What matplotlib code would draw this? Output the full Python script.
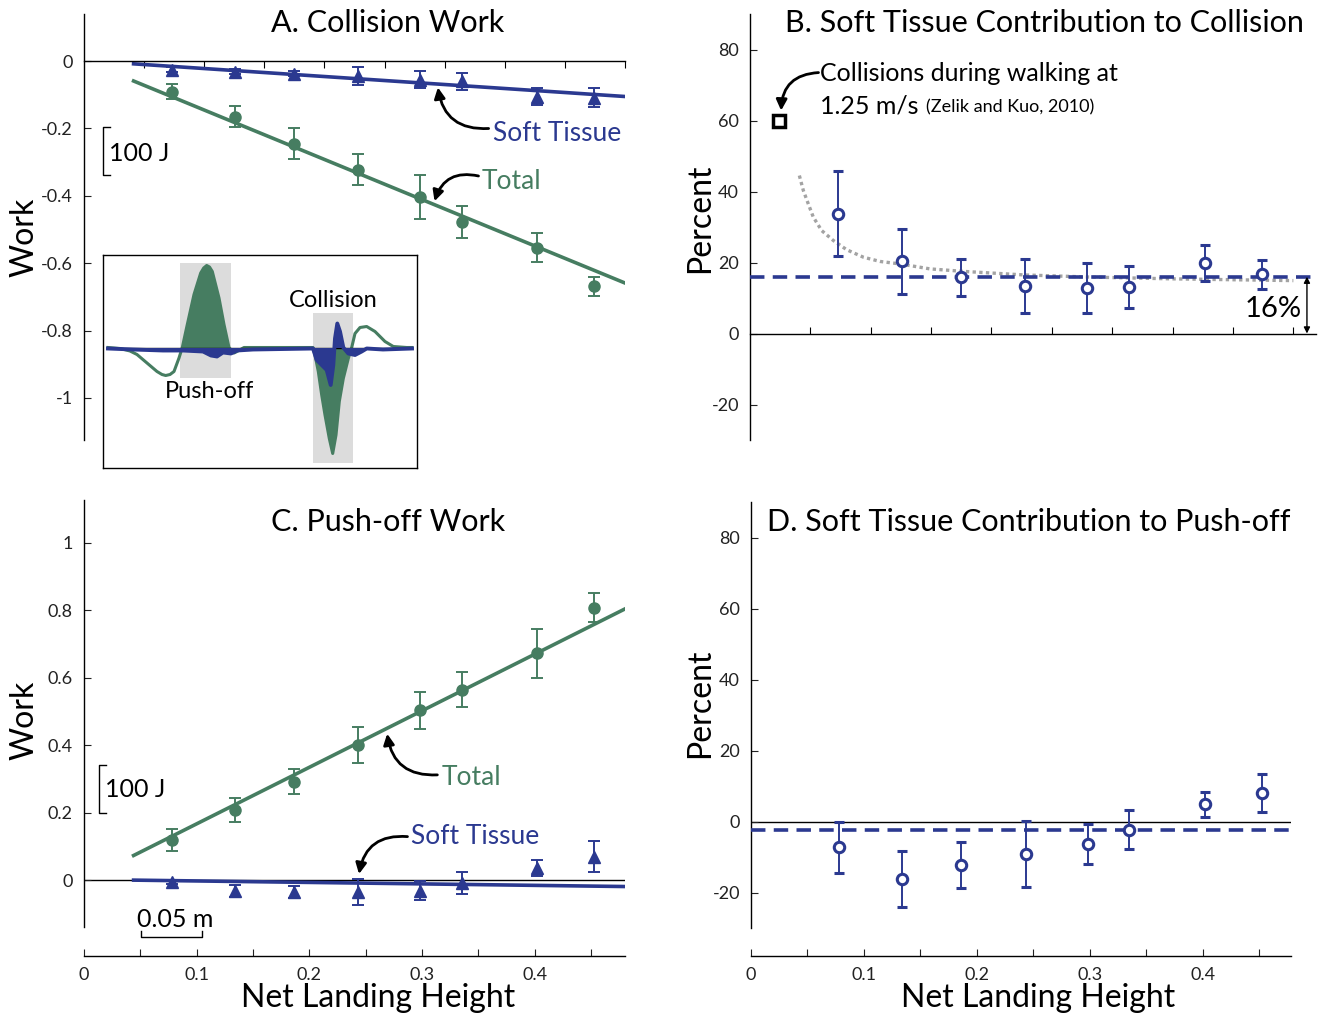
import numpy as np
import matplotlib
matplotlib.use('Agg')
import matplotlib.pyplot as plt
from matplotlib.patches import Rectangle

plt.rcParams['font.family'] = ['Lato', 'DejaVu Sans']

# ---------------- data ----------------
heights = [0.078, 0.134, 0.186, 0.243, 0.298, 0.335, 0.402, 0.4525]

coll_total = [-0.091, -0.165, -0.245, -0.322, -0.403, -0.478, -0.554, -0.668]
coll_total_err = [0.022, 0.032, 0.046, 0.045, 0.066, 0.047, 0.043, 0.028]
coll_soft = [-0.025, -0.031, -0.037, -0.044, -0.055, -0.060, -0.105, -0.108]
coll_soft_err = [0.008, 0.008, 0.008, 0.027, 0.026, 0.026, 0.025, 0.027]
coll_total_fit = (-1.376, 0.0016)   # slope, intercept
coll_soft_fit = (-0.2225, 0.0018)

push_total = [0.119, 0.208, 0.291, 0.400, 0.503, 0.564, 0.672, 0.808]
push_total_err = [0.032, 0.036, 0.037, 0.054, 0.055, 0.052, 0.074, 0.044]
push_soft = [-0.006, -0.031, -0.035, -0.036, -0.031, -0.009, 0.035, 0.070]
push_soft_err = [0.006, 0.018, 0.019, 0.039, 0.027, 0.032, 0.024, 0.046]
push_total_fit = (1.677, -0.0008)
push_soft_fit = (-0.0436, 0.0019)
fit_range = (0.044, 0.48)

coll_pct = [33.8, 20.3, 15.8, 13.5, 12.8, 13.2, 19.9, 16.7]
coll_pct_err = [12.0, 9.1, 5.2, 7.6, 7.0, 5.9, 5.1, 4.1]
coll_pct_mean = 16.0
walking_ref = (0.0256, 60.0)
coll_curve_x = [0.0436, 0.0471, 0.0515, 0.0559, 0.0633, 0.0736, 0.0854, 0.1001, 0.1148,
                0.1325, 0.159, 0.1884, 0.242, 0.300, 0.372, 0.480]
coll_curve_y = [44.5, 40.3, 36.5, 32.8, 29.0, 26.2, 23.6, 21.5, 20.3,
                19.6, 18.2, 17.5, 16.5, 15.9, 15.4, 14.9]

push_pct = [-7.2, -16.2, -12.2, -9.1, -6.4, -2.3, 4.8, 8.0]
push_pct_err = [7.2, 7.9, 6.4, 9.3, 5.6, 5.4, 3.4, 5.4]
push_pct_mean = -2.3

# inset: illustrative power traces (time a.u., power a.u.)
inset_green_t = [5, 17, 27, 34, 44, 54, 59, 62.7, 67, 71, 76, 79.3, 84.3, 91, 97.7, 100.7, 103.7,
                 106.5, 109.3, 116, 121, 126, 131, 134, 141, 210, 212, 215.3, 218.7, 222, 226.3,
                 229.7, 233, 236.3, 240.3, 245.3, 248.7, 252, 257, 263.7, 272, 282, 290.3, 303.7, 309]
inset_green_p = [0, -1, -3.5, -7, -15.5, -24, -27, -28, -27, -24, -10.5, 0, 23, 53, 74.5, 79.5, 82,
                 80.5, 76, 49.5, 23, 0, -5.5, -4, 0, 0, -7.5, -24, -47.5, -67.5, -91,
                 -106, -87.5, -54, -31, -11, 0, 14, 20, 21, 16, 6, 1, 0, 0]
inset_blue_t = [5, 30, 60, 80, 100, 108, 114, 120, 128, 134, 150, 210, 213.7, 218.7, 223.7, 227.7,
                230.3, 232, 234.3, 237, 240.3, 245.3, 252, 258.7, 263.7, 280, 309]
inset_blue_p = [-1, -2, -3, -3, -4, -8, -9, -5, -6, -3, -2, -1, -12.5, -17.5, -22.5, -37.5,
                -17.5, 9, 24, 16, 0, -6, -7.5, -4, -1, -2, -1]
pushoff_window = (77, 127.7, -30.5, 84.5)     # t0, t1, p0, p1
collision_window = (209.7, 249.7, -115.8, 34.2)

# ---------------- style ----------------
GREEN = '#467d61'
BLUE = '#2b3990'
W, H = 1321, 1016
PX = 72 / 100  # points per pixel
fig = plt.figure(figsize=(W / 100, H / 100), dpi=100)


def rect(x0, y0, x1, y1):
    return [x0 / W, 1 - y1 / H, (x1 - x0) / W, (y1 - y0) / H]


def fmt(v):
    return f"{v:g}"


def base_axes(ax, xlim, ylim, yticks):
    ax.set_xlim(*xlim)
    ax.set_ylim(*ylim)
    for s in ('top', 'right'):
        ax.spines[s].set_visible(False)
    ax.spines['left'].set_linewidth(1.0)
    ax.spines['bottom'].set_linewidth(1.0)
    ax.set_yticks(yticks)
    ax.set_yticklabels([fmt(v) for v in yticks])
    ax.tick_params(axis='y', direction='in', length=5, labelsize=13, pad=8, colors='#222222')
    ax.patch.set_alpha(0)


def fit_line(ax, coef, color):
    fx = np.array(fit_range)
    ax.plot(fx, coef[0] * fx + coef[1], color=color, lw=2.6, zorder=2)


def filled_err(ax, y, err, color, marker, ms):
    ax.errorbar(heights, y, yerr=err, fmt=marker, color=color, ms=ms, ecolor=color,
                elinewidth=1.4, capsize=4, capthick=1.4, zorder=3)


def open_err(ax, y, err):
    ax.errorbar(heights, y, yerr=err, fmt='o', mfc='white', mec=BLUE, mew=2.2, ms=7.5,
                ecolor=BLUE, elinewidth=1.4, capsize=3.5, capthick=1.4, zorder=4)


def curved_arrow(ax, tail, head, rad):
    ax.annotate('', xy=head, xytext=tail,
                arrowprops=dict(arrowstyle='-|>', color='k', lw=2, mutation_scale=16,
                                shrinkA=0, shrinkB=0, connectionstyle=f'arc3,rad={rad}'))


def scale_bar_v(ax, x, y0, y1, dx):
    ax.plot([x + dx, x, x, x + dx], [y0, y0, y1, y1], color='k', lw=1, clip_on=False)


ticks_zero = np.linspace(0, 0.48, 10)[1:]

# ---------------- Panel A ----------------
axA = fig.add_axes(rect(84, 14, 625, 440))
base_axes(axA, (0, 0.48), (-1.125, 0.14), [-1, -0.8, -0.6, -0.4, -0.2, 0])
axA.spines['bottom'].set_position(('data', 0))
axA.set_xticks(ticks_zero)
axA.tick_params(axis='x', direction='out', length=5, labelbottom=False)
fit_line(axA, coll_total_fit, GREEN)
fit_line(axA, coll_soft_fit, BLUE)
filled_err(axA, coll_total, coll_total_err, GREEN, 'o', 8)
filled_err(axA, coll_soft, coll_soft_err, BLUE, '^', 9)
axA.text(0.363, -0.214, 'Soft Tissue', color=BLUE, fontsize=19, va='center', ha='left')
curved_arrow(axA, (0.359, -0.200), (0.314, -0.078), -0.45)
axA.text(0.353, -0.356, 'Total', color=GREEN, fontsize=19, va='center', ha='left')
curved_arrow(axA, (0.350, -0.341), (0.311, -0.416), 0.45)
scale_bar_v(axA, 0.0168, -0.338, -0.196, 0.006)
axA.text(0.022, -0.273, '100 J', fontsize=18, va='center', ha='left')

# inset
axI = fig.add_axes(rect(103, 255, 417, 468))
axI.set_xlim(0, 314)
axI.set_ylim(-120.5, 92.5)
axI.set_xticks([])
axI.set_yticks([])
for s in axI.spines.values():
    s.set_linewidth(1.0)
for (t0, t1, p0, p1) in (pushoff_window, collision_window):
    axI.add_patch(Rectangle((t0, p0), t1 - t0, p1 - p0, color='#dcdcdc', lw=0, zorder=0))
gt = np.array(inset_green_t)
gp = np.array(inset_green_p)
for (t0, t1, _, _) in (pushoff_window, collision_window):
    axI.fill_between(gt, gp, 0, where=(gt >= t0) & (gt <= t1), color=GREEN, lw=0,
                     interpolate=True, zorder=1)
axI.plot(gt, gp, color=GREEN, lw=2.2, zorder=2, solid_joinstyle='round')
axI.plot([5, 309], [0, 0], color='k', lw=1, zorder=2.5)
axI.fill_between(inset_blue_t, inset_blue_p, 0, color=BLUE, lw=0, zorder=3)
axI.plot(inset_blue_t, inset_blue_p, color=BLUE, lw=2.8, zorder=3, solid_joinstyle='round')
axI.text(230, 47.5, 'Collision', fontsize=17, ha='center', va='center')
axI.text(107, -43.5, 'Push-off', fontsize=17, ha='center', va='center')

# ---------------- Panel B ----------------
axB = fig.add_axes(rect(750, 14, 1316, 440))
base_axes(axB, (0, 0.5), (-30, 90), [-20, 0, 20, 40, 60, 80])
axB.spines['bottom'].set_position(('data', 0))
axB.set_xticks(ticks_zero)
axB.tick_params(axis='x', direction='in', length=5, labelbottom=False)
axB.plot(coll_curve_x, coll_curve_y, color='#a3a3a3', lw=2.4, ls=(0, (1, 1)), zorder=2)
axB.axhline(coll_pct_mean, color=BLUE, lw=2.6, ls=(0, (4, 2.3)), zorder=3)
open_err(axB, coll_pct, coll_pct_err)
axB.plot(*walking_ref, 's', mfc='white', mec='k', mew=2.5, ms=8, zorder=5)
axB.text(0.062, 73.2, 'Collisions during walking at', fontsize=18, va='center', ha='left')
t_speed = axB.text(0.062, 64.2, '1.25 m/s', fontsize=18, va='center', ha='left')
axB.annotate('(Zelik and Kuo, 2010)', xy=(1, 0.5), xycoords=t_speed, xytext=(5, -1),
             textcoords='offset points', fontsize=13, va='center', ha='left')
curved_arrow(axB, (0.0605, 73.5), (0.0275, 62.8), 0.45)
axB.annotate('', xy=(0.492, 0), xytext=(0.492, coll_pct_mean),
             arrowprops=dict(arrowstyle='<|-|>', color='k', lw=1, mutation_scale=9,
                             shrinkA=0, shrinkB=0))
axB.text(0.487, 7.0, '16%', fontsize=21, va='center', ha='right')

# ---------------- Panel C ----------------
axC = fig.add_axes(rect(84, 500, 625, 927))
base_axes(axC, (0, 0.48), (-0.139, 1.127), [0, 0.2, 0.4, 0.6, 0.8, 1])
xt = np.arange(0, 0.46, 0.05)
axC.spines['bottom'].set_position(('outward', 29 * PX))
axC.axhline(0, color='k', lw=1, zorder=1)
fit_line(axC, push_total_fit, GREEN)
fit_line(axC, push_soft_fit, BLUE)
filled_err(axC, push_total, push_total_err, GREEN, 'o', 8)
filled_err(axC, push_soft, push_soft_err, BLUE, '^', 9)
axC.text(0.317, 0.305, 'Total', color=GREEN, fontsize=19, va='center', ha='left')
curved_arrow(axC, (0.3135, 0.312), (0.269, 0.434), -0.45)
axC.text(0.290, 0.129, 'Soft Tissue', color=BLUE, fontsize=19, va='center', ha='left')
curved_arrow(axC, (0.287, 0.129), (0.244, 0.018), 0.45)
scale_bar_v(axC, 0.0135, 0.199, 0.340, 0.006)
axC.text(0.019, 0.27, '100 J', fontsize=18, va='center', ha='left')
axC.plot([0.0508, 0.0508, 0.105, 0.105], [-0.152, -0.169, -0.169, -0.152], color='k', lw=1,
         clip_on=False)
axC.text(0.081, -0.118, '0.05 m', fontsize=18, va='center', ha='center')

# ---------------- Panel D ----------------
axD = fig.add_axes(rect(751, 502, 1291, 928))
base_axes(axD, (0, 0.478), (-30, 90), [-20, 0, 20, 40, 60, 80])
axD.spines['bottom'].set_position(('outward', 28 * PX))
axD.axhline(0, color='k', lw=1, zorder=1)
axD.axhline(push_pct_mean, color=BLUE, lw=2.6, ls=(0, (4, 2.3)), zorder=3)
open_err(axD, push_pct, push_pct_err)

for ax in (axC, axD):
    ax.set_xticks(xt)
    ax.set_xticklabels([fmt(round(v, 2)) if abs(round(v * 10) - v * 10) < 1e-6 else '' for v in xt])
    ax.tick_params(axis='x', direction='in', length=5, labelsize=13, pad=8, colors='#222222')

# ---------------- titles & labels ----------------
fig.text(388 / W, 1 - 23 / H, 'A. Collision Work', fontsize=22, ha='center', va='center')
fig.text(1044 / W, 1 - 23 / H, 'B. Soft Tissue Contribution to Collision', fontsize=22,
         ha='center', va='center')
fig.text(388 / W, 1 - 522 / H, 'C. Push-off Work', fontsize=22, ha='center', va='center')
fig.text(1029 / W, 1 - 522 / H, 'D. Soft Tissue Contribution to Push-off', fontsize=22,
         ha='center', va='center')
for yc in (237, 720):
    fig.text(25 / W, 1 - yc / H, 'Work', fontsize=23, rotation=90, ha='center', va='center')
for yc in (218, 703):
    fig.text(700 / W, 1 - yc / H, 'Percent', fontsize=23, rotation=90, ha='center', va='center')
fig.text(378 / W, 1 - 998 / H, 'Net Landing Height', fontsize=23, ha='center', va='center')
fig.text(1038 / W, 1 - 998 / H, 'Net Landing Height', fontsize=23, ha='center', va='center')

fig.savefig('out.png', dpi=100)
